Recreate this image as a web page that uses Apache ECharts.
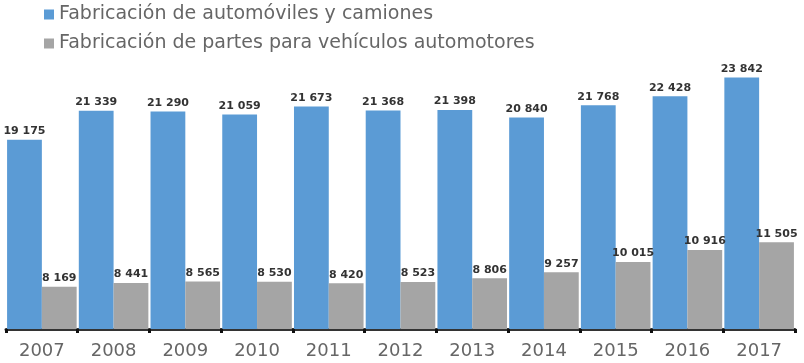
<!DOCTYPE html>
<html>
<head>
<meta charset="utf-8">
<script src="https://cdn.jsdelivr.net/npm/echarts@6/dist/echarts.min.js"></script>
<style>html,body{margin:0;padding:0;background:#fff;}#c{width:804px;height:363px;}</style>
</head>
<body>
<div id="c"></div>
<script>
var categories = ['2007','2008','2009','2010','2011','2012','2013','2014','2015','2016','2017'];
var seriesNames = ['Fabricación de automóviles y camiones','Fabricación de partes para vehículos automotores'];
var autos = [19175,21339,21290,21059,21673,21368,21398,20840,21768,22428,23842];
var partes = [8169,8441,8565,8530,8420,8523,8806,9257,10015,10916,11505];

function fmt(p){ return String(p.value).replace(/\B(?=(\d{3})+(?!\d))/g,' '); }
var chart = echarts.init(document.getElementById('c'));
var labelStyle = {show:true, position:'top', distance:3, formatter:fmt, color:'#333', fontFamily:'DejaVu Sans', fontWeight:'bold', fontSize:11};
chart.setOption({
  animation:false,
  legend:{orient:'vertical', left:39, top:0, itemWidth:10, itemHeight:10, itemGap:10, itemTextGap:12, icon:'rect',
    textStyle:{color:'#666', fontFamily:'DejaVu Sans', fontSize:19}, data:seriesNames},
  grid:{left:6, right:9, top:62, bottom:34},
  xAxis:{type:'category', data:categories,
    axisLine:{lineStyle:{color:'#333', width:3}},
    axisTick:{show:true, length:4, lineStyle:{color:'#111', width:3}},
    axisLabel:{color:'#666', fontFamily:'DejaVu Sans', fontSize:18, margin:13}},
  yAxis:{type:'value', min:5000, max:25000, show:false, splitLine:{show:false}},
  series:[
    {name:seriesNames[0], type:'bar', data:autos, barGap:'0%', barCategoryGap:'3%', itemStyle:{color:'#5B9BD5'}, label:labelStyle},
    {name:seriesNames[1], type:'bar', data:partes, barGap:'0%', barCategoryGap:'3%', itemStyle:{color:'#A5A5A5'}, label:labelStyle}
  ]
});
</script>
</body>
</html>
